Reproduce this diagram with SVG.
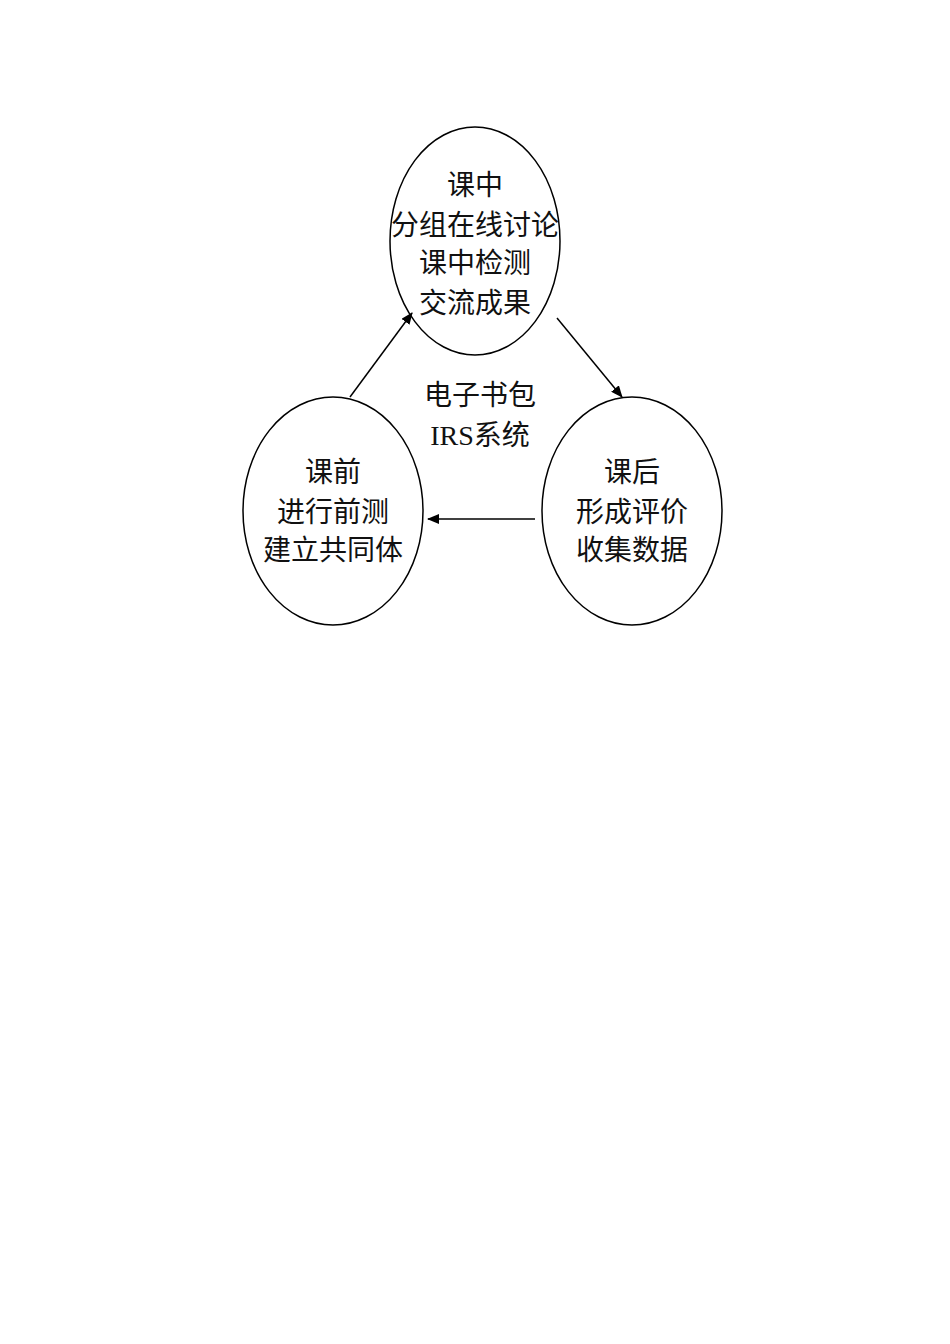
<svg xmlns="http://www.w3.org/2000/svg" width="950" height="1344" viewBox="0 0 950 1344">
<style>
.n{fill:none;stroke:#000;stroke-width:1.5}
.t{font-family:"Liberation Serif","Noto Sans CJK SC",serif;font-size:28px;text-anchor:middle;fill:#111}
.c{stroke:#000;stroke-width:1.5;fill:none;marker-end:url(#a)}
</style>
<defs><marker id="a" markerWidth="12" markerHeight="10" refX="11" refY="5" orient="auto" markerUnits="userSpaceOnUse"><path d="M0,0L12,5L0,10z" fill="#000"/></marker></defs>
<rect width="950" height="1344" fill="#fff"/>
<g id="top"><ellipse class="n" cx="475" cy="241" rx="85" ry="114"/>
<text class="t" x="475" y="195">课中</text><text class="t" x="475" y="235">分组在线讨论</text><text class="t" x="475" y="273">课中检测</text><text class="t" x="475" y="313">交流成果</text></g>
<g id="center"><text class="t" x="480" y="405">电子书包</text><text class="t" x="480" y="445">IRS系统</text></g>
<g id="left"><ellipse class="n" cx="333" cy="511" rx="90" ry="114"/>
<text class="t" x="333" y="482">课前</text><text class="t" x="333" y="522">进行前测</text><text class="t" x="333" y="560">建立共同体</text></g>
<g id="right"><ellipse class="n" cx="632" cy="511" rx="90" ry="114"/>
<text class="t" x="632" y="482">课后</text><text class="t" x="632" y="522">形成评价</text><text class="t" x="632" y="560">收集数据</text></g>
<g id="connectors">
<line class="c" x1="350" y1="397" x2="412" y2="313"/>
<line class="c" x1="557" y1="318" x2="622" y2="397"/>
<line class="c" x1="535" y1="519" x2="428" y2="519"/>
</g>
</svg>
